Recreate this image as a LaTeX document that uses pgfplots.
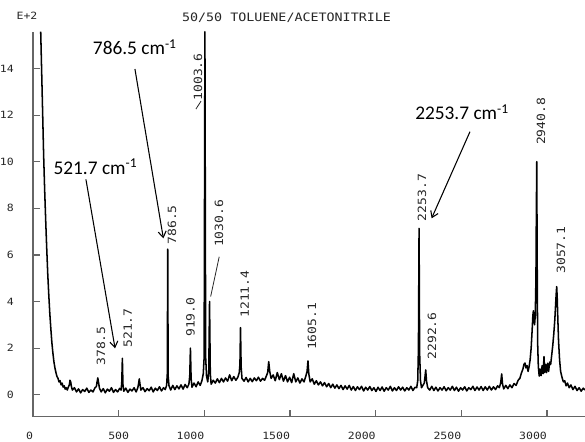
\documentclass[border=0pt]{standalone}
\usepackage{fontspec}
\usepackage{pgfplots}
\pgfplotsset{compat=1.18}
\usetikzlibrary{arrows.meta}
\newfontfamily\plotter[FakeStretch=1.15]{DejaVu Sans Mono}
\newfontfamily\callout{Carlito}

% Raman spectrum of a 50/50 toluene/acetonitrile mixture (intensity in units of 10^2)
\pgfplotstableread[row sep=\\]{
x y\\
45 15.58\\ 55 12.5\\ 62 10.3\\ 68 8.8\\ 74 7.5\\ 80 6.3\\ 86 5.2\\ 92 4.3\\ 98 3.5\\
104 2.85\\ 110 2.25\\ 116 1.8\\ 122 1.42\\ 128 1.15\\ 134 0.95\\ 140 0.78\\ 146 0.7\\
152 0.55\\ 158 0.6\\ 164 0.42\\ 170 0.5\\ 176 0.33\\ 182 0.38\\ 188 0.24\\ 194 0.3\\
200 0.2\\ 206 0.32\\ 212 0.42\\ 216 0.62\\ 220 0.55\\ 224 0.36\\ 230 0.2\\ 242 0.3\\
254 0.12\\ 266 0.25\\ 278 0.08\\ 290 0.22\\ 302 0.14\\ 314 0.28\\ 326 0.1\\ 338 0.2\\
350 0.12\\ 362 0.3\\ 370 0.35\\ 374 0.55\\ 378.5 0.72\\ 383 0.5\\ 388 0.28\\ 398 0.12\\
410 0.26\\ 422 0.08\\ 434 0.24\\ 446 0.15\\ 458 0.3\\ 470 0.1\\ 482 0.22\\ 494 0.12\\
506 0.27\\ 514 0.2\\ 518 0.5\\ 521.7 1.56\\ 525 0.45\\ 530 0.15\\ 542 0.28\\ 554 0.1\\
566 0.24\\ 578 0.16\\ 590 0.3\\ 602 0.12\\ 612 0.3\\ 617 0.5\\ 620.5 0.68\\ 624 0.48\\
630 0.2\\ 642 0.3\\ 654 0.13\\ 666 0.26\\ 678 0.17\\ 690 0.32\\ 702 0.12\\ 714 0.28\\
726 0.18\\ 738 0.34\\ 750 0.16\\ 762 0.3\\ 772 0.22\\ 780 0.4\\ 784 0.9\\ 786.5 6.25\\
789 0.8\\ 794 0.38\\ 804 0.2\\ 816 0.4\\ 828 0.22\\ 840 0.38\\ 852 0.25\\ 864 0.42\\
876 0.24\\ 888 0.44\\ 900 0.3\\ 910 0.45\\ 915 0.8\\ 919 2.0\\ 923 0.7\\ 928 0.32\\
940 0.5\\ 952 0.34\\ 964 0.55\\ 976 0.4\\ 986 0.6\\ 994 0.9\\ 999 1.6\\ 1003.6 17\\
1008 1.6\\ 1013 0.8\\ 1020 0.55\\ 1026 1.0\\ 1030.6 4.0\\ 1035 0.9\\ 1040 0.45\\
1052 0.62\\ 1064 0.5\\ 1076 0.68\\ 1088 0.52\\ 1100 0.7\\ 1112 0.55\\ 1124 0.72\\
1136 0.58\\ 1148 0.85\\ 1160 0.6\\ 1172 0.78\\ 1184 0.62\\ 1196 0.75\\ 1204 0.95\\
1208 1.3\\ 1211.4 2.88\\ 1215 1.2\\ 1220 0.7\\ 1232 0.58\\ 1244 0.74\\ 1256 0.55\\
1268 0.7\\ 1280 0.56\\ 1292 0.72\\ 1304 0.6\\ 1316 0.75\\ 1328 0.58\\ 1340 0.7\\
1352 0.62\\ 1362 0.8\\ 1370 0.95\\ 1376 1.42\\ 1382 1.0\\ 1390 0.7\\ 1402 0.85\\
1414 0.6\\ 1426 0.95\\ 1438 0.65\\ 1450 0.9\\ 1462 0.58\\ 1474 0.82\\ 1486 0.55\\
1498 0.75\\ 1510 0.52\\ 1522 0.9\\ 1534 0.55\\ 1546 0.72\\ 1558 0.5\\ 1570 0.68\\
1582 0.55\\ 1592 0.78\\ 1600 1.0\\ 1605.1 1.45\\ 1610 0.9\\ 1618 0.55\\ 1630 0.68\\
1642 0.45\\ 1654 0.6\\ 1666 0.42\\ 1678 0.55\\ 1690 0.38\\ 1702 0.52\\ 1714 0.34\\
1726 0.48\\ 1738 0.3\\ 1750 0.45\\ 1762 0.28\\ 1774 0.42\\ 1786 0.26\\ 1798 0.4\\
1810 0.22\\ 1822 0.38\\ 1834 0.24\\ 1846 0.4\\ 1858 0.2\\ 1870 0.35\\ 1882 0.18\\
1894 0.34\\ 1906 0.22\\ 1918 0.36\\ 1930 0.16\\ 1942 0.32\\ 1954 0.2\\ 1966 0.35\\
1978 0.18\\ 1990 0.3\\ 2002 0.14\\ 2014 0.32\\ 2026 0.18\\ 2038 0.33\\ 2050 0.15\\
2062 0.3\\ 2074 0.2\\ 2086 0.36\\ 2098 0.16\\ 2110 0.3\\ 2122 0.18\\ 2134 0.34\\
2146 0.2\\ 2158 0.32\\ 2170 0.16\\ 2182 0.3\\ 2194 0.2\\ 2206 0.36\\ 2218 0.18\\
2230 0.32\\ 2240 0.3\\ 2246 0.6\\ 2250 2.0\\ 2253.7 7.14\\ 2257 1.8\\ 2262 0.6\\
2268 0.3\\ 2276 0.4\\ 2284 0.5\\ 2288 0.75\\ 2292.6 1.06\\ 2297 0.6\\ 2304 0.3\\
2316 0.2\\ 2328 0.36\\ 2340 0.18\\ 2352 0.32\\ 2364 0.16\\ 2376 0.3\\ 2388 0.2\\
2400 0.34\\ 2412 0.17\\ 2424 0.3\\ 2436 0.2\\ 2448 0.36\\ 2460 0.18\\ 2472 0.32\\
2484 0.15\\ 2496 0.3\\ 2508 0.2\\ 2520 0.34\\ 2532 0.16\\ 2544 0.3\\ 2556 0.22\\
2568 0.36\\ 2580 0.18\\ 2592 0.33\\ 2604 0.2\\ 2616 0.35\\ 2628 0.18\\ 2640 0.34\\
2652 0.2\\ 2664 0.36\\ 2676 0.2\\ 2688 0.34\\ 2700 0.22\\ 2712 0.38\\ 2722 0.3\\
2730 0.5\\ 2736 0.89\\ 2741 0.45\\ 2748 0.25\\ 2760 0.4\\ 2772 0.26\\ 2784 0.42\\
2796 0.3\\ 2808 0.48\\ 2820 0.4\\ 2832 0.62\\ 2842 0.7\\ 2852 0.95\\ 2860 1.1\\
2866 1.3\\ 2872 1.36\\ 2878 1.15\\ 2884 1.25\\ 2890 1.0\\ 2896 1.2\\ 2902 1.5\\
2908 2.0\\ 2914 2.8\\ 2918 3.4\\ 2921 3.6\\ 2924 3.3\\ 2928 3.0\\ 2932 3.4\\ 2936 5.0\\
2938.5 8.0\\ 2940.8 10.0\\ 2943 6.0\\ 2946 2.2\\ 2950 1.2\\ 2955 0.8\\ 2960 1.1\\
2966 0.82\\ 2972 1.25\\ 2978 0.9\\ 2983 1.63\\ 2987 0.95\\ 2992 1.3\\ 2998 0.95\\
3004 1.35\\ 3010 1.0\\ 3016 1.4\\ 3022 1.3\\ 3028 1.7\\ 3034 2.1\\ 3040 2.6\\
3046 3.2\\ 3051 3.9\\ 3054 4.3\\ 3057.1 4.64\\ 3060 4.2\\ 3064 3.2\\ 3068 2.3\\
3074 1.5\\ 3080 1.0\\ 3088 0.75\\ 3096 0.55\\ 3104 0.6\\ 3112 0.38\\ 3120 0.5\\
3130 0.3\\ 3140 0.42\\ 3152 0.22\\ 3164 0.36\\ 3176 0.18\\ 3188 0.3\\ 3200 0.15\\
3212 0.28\\ 3222 0.2\\
}\spectrum

\begin{document}
\begin{tikzpicture}
\path[use as bounding box] (0,0) rectangle (438.75pt,331.5pt);
\begin{axis}[
  at={(24.75pt,18.975pt)}, anchor=south west,
  scale only axis, width=414pt, height=288.75pt,
  xmin=0, xmax=3222.4, ymin=-0.944, ymax=15.58,
  enlargelimits=false, clip=false,
  axis x line=bottom, axis y line=left,
  axis line style={-, black!60, line width=1pt},
  tick style={black!60, line width=0.9pt},
  tick align=inside, major tick length=5pt,
  xtick={0,500,1000,1500,2000,2500,3000},
  xticklabels={\llap{0},500,\llap{1000},\llap{1500},\llap{2000},\llap{2500},\llap{3000}},
  ytick={0,2,4,6,8,10,12,14},
  /pgf/number format/assume math mode=true,
  tick label style={font=\plotter\fontsize{7.5}{8}\selectfont, text=black!85},
  xticklabel style={anchor=north, inner sep=0pt, yshift=-11.4pt},
  yticklabel style={anchor=east, inner sep=0pt, xshift=-14.25pt},
]
\addplot[black, line width=1.15pt, line join=round, restrict y to domain*=-1:15.58]
  table[x=x, y=y] {\spectrum};

% header texts
\node[font=\plotter\fontsize{8.7}{9}\selectfont, text=black!85] at (axis cs:1480,16.17) {50/50 TOLUENE/ACETONITRILE};
\node[font=\plotter\fontsize{7.5}{8}\selectfont, text=black!85] at (axis cs:-35,16.27) {E+2};

% peak position labels
\begin{scope}[every node/.style={rotate=90, font=\plotter\fontsize{8.5}{9}\selectfont, text=black!85, inner sep=0pt}]
\node at (axis cs:397,2.09) {378.5};
\node at (axis cs:553,2.86) {521.7};
\node at (axis cs:811,7.29) {786.5};
\node at (axis cs:919,3.33) {919.0};
\node at (axis cs:963,13.64) {1003.6};
\node at (axis cs:1086,7.35) {1030.6};
\node at (axis cs:1235,4.32) {1211.4};
\node at (axis cs:1629,2.93) {1605.1};
\node at (axis cs:2271,8.46) {2253.7};
\node at (axis cs:2329,2.52) {2292.6};
\node at (axis cs:2966,11.73) {2940.8};
\node at (axis cs:3082,6.21) {3057.1};
\end{scope}
\draw[black!85, line width=0.6pt] (axis cs:951,12.26) -- (axis cs:981,12.6);
\draw[black!85, line width=0.6pt] (axis cs:1087,5.92) -- (axis cs:1037,4.21);

% callouts
\begin{scope}[every node/.style={font=\callout\fontsize{14.5}{16}\selectfont, anchor=base west, inner sep=0pt}]
\node at (axis cs:348.5,14.58) {786.5 cm\textsuperscript{-1}};
\node at (axis cs:118.5,9.47) {521.7 cm\textsuperscript{-1}};
\node at (axis cs:2230,11.79) {2253.7 cm\textsuperscript{-1}};
\end{scope}
\begin{scope}[line width=0.8pt, -{Straight Barb[length=4.5pt,width=6pt]}]
\draw (axis cs:595,13.98) -- (axis cs:761,6.71);
\draw (axis cs:309,9.24) -- (axis cs:479,1.99);
\draw (axis cs:2551,11.29) -- (axis cs:2327,7.57);
\end{scope}
\end{axis}
\end{tikzpicture}
\end{document}
